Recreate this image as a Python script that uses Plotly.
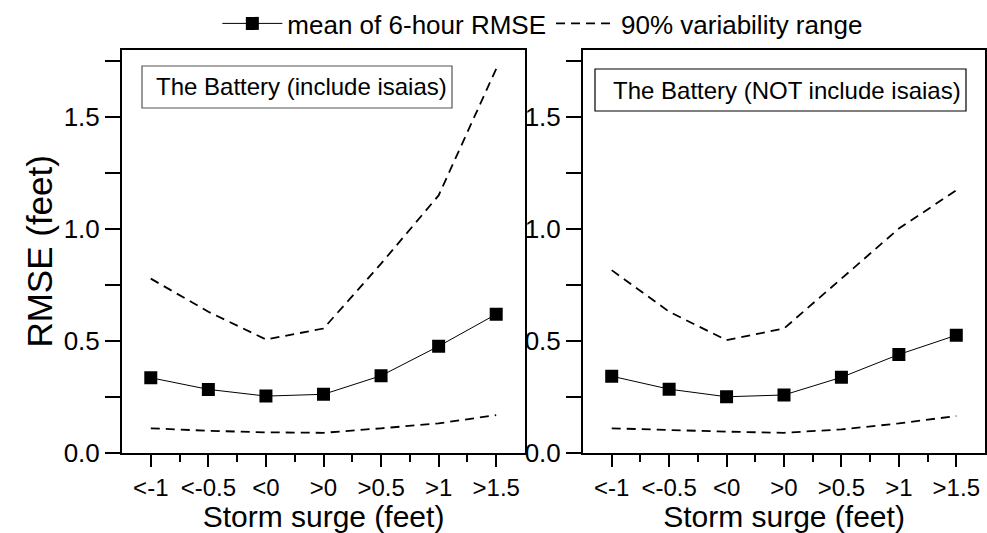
import plotly.graph_objects as go

categories = ["<-1", "<-0.5", "<0", ">0", ">0.5", ">1", ">1.5"]

# Left panel: The Battery (include isaias)
mean_incl = [0.335, 0.283, 0.253, 0.261, 0.344, 0.476, 0.619]
upper_incl = [0.778, 0.630, 0.506, 0.555, 0.845, 1.150, 1.716]
lower_incl = [0.109, 0.098, 0.091, 0.089, 0.109, 0.131, 0.168]

# Right panel: The Battery (NOT include isaias)
mean_excl = [0.342, 0.284, 0.250, 0.258, 0.337, 0.439, 0.525]
upper_excl = [0.816, 0.630, 0.503, 0.555, 0.778, 1.002, 1.173]
lower_excl = [0.109, 0.101, 0.094, 0.089, 0.104, 0.131, 0.164]

panel_titles = ["The Battery (include isaias)", "The Battery (NOT include isaias)"]
y_ticks = [0.0, 0.5, 1.0, 1.5]

FONT = "Liberation Sans, Arial, sans-serif"
xpos = list(range(len(categories)))
ticktext = [c.replace("<", "&lt;").replace(">", "&gt;") for c in categories]

fig = go.Figure()

panels = [
    ("x", "y", mean_incl, upper_incl, lower_incl),
    ("x2", "y2", mean_excl, upper_excl, lower_excl),
]
for i, (xa, ya, m, up, lo) in enumerate(panels):
    first = i == 0
    fig.add_trace(go.Scatter(
        x=xpos, y=m, xaxis=xa, yaxis=ya, mode="lines+markers",
        name="mean of 6-hour RMSE", showlegend=first, legendgroup="m",
        line=dict(color="black", width=1),
        marker=dict(symbol="square", size=13, color="black"),
    ))
    fig.add_trace(go.Scatter(
        x=xpos, y=up, xaxis=xa, yaxis=ya, mode="lines",
        name="90% variability range", showlegend=first, legendgroup="r",
        line=dict(color="black", width=1.8, dash="9px,6px"),
    ))
    fig.add_trace(go.Scatter(
        x=xpos, y=lo, xaxis=xa, yaxis=ya, mode="lines",
        name="90% variability range", showlegend=False, legendgroup="r",
        line=dict(color="black", width=1.8, dash="9px,6px"),
    ))

W, H = 987, 533
ydom = [1 - 452.7 / H, 1 - 50 / H]
xdoms = [[122 / W, 525 / W], [583 / W, 985 / W]]

common_x = dict(
    range=[-0.5, 6.5], tickmode="array", tickvals=xpos, ticktext=ticktext,
    ticks="outside", ticklen=12, tickwidth=1.5, tickcolor="black",
    minor=dict(tickmode="array", tickvals=[p + 0.5 for p in xpos[:-1]],
               ticks="outside", ticklen=7, tickwidth=1.5, tickcolor="black"),
    showline=True, linewidth=2, linecolor="black", mirror=True,
    showgrid=False, zeroline=False,
    tickfont=dict(family=FONT, size=24, color="black"),
    title=dict(text="Storm surge (feet)", font=dict(family=FONT, size=30, color="black"), standoff=0),
    automargin=False, fixedrange=True,
)
common_y = dict(
    range=[0, 1.8], tickmode="array", tickvals=y_ticks,
    ticktext=[f"{v:.1f}" for v in y_ticks],
    ticks="outside", ticklen=15, tickwidth=1.5, tickcolor="black",
    minor=dict(dtick=0.25, ticks="outside", ticklen=15, tickwidth=1.5, tickcolor="black"),
    showline=True, linewidth=2, linecolor="black", mirror=True,
    showgrid=False, zeroline=False,
    tickfont=dict(family=FONT, size=26, color="black"),
    automargin=False, fixedrange=True,
)

fig.update_layout(
    width=W, height=H,
    margin=dict(l=0, r=0, t=0, b=0),
    paper_bgcolor="white", plot_bgcolor="white",
    font=dict(family=FONT, color="black"),
    xaxis=dict(common_x, domain=xdoms[0], anchor="y"),
    xaxis2=dict(common_x, domain=xdoms[1], anchor="y2"),
    yaxis=dict(common_y, domain=ydom, anchor="x",
               title=dict(text="RMSE (feet)", font=dict(family=FONT, size=35, color="black"), standoff=0)),
    yaxis2=dict(common_y, domain=ydom, anchor="x2"),
    legend=dict(orientation="h", x=0.55, xanchor="center", y=1.0, yanchor="top",
                font=dict(family=FONT, size=26, color="black"),
                bgcolor="rgba(0,0,0,0)", itemwidth=60, tracegroupgap=0),
    showlegend=True,
)

# Label boxes
boxes = [
    dict(x0=142, x1=452, y0=66, y1=108, tx=301, col="#555555"),
    dict(x0=595, x1=966, y0=69, y1=111, tx=787, col="black"),
]
for b, title in zip(boxes, panel_titles):
    fig.add_shape(type="rect", xref="paper", yref="paper",
                  x0=b["x0"] / W, x1=b["x1"] / W, y0=1 - b["y1"] / H, y1=1 - b["y0"] / H,
                  line=dict(color=b["col"], width=1.2), fillcolor="white", layer="below")
    fig.add_annotation(text=title, xref="paper", yref="paper",
                       x=b["tx"] / W, y=1 - (b["y0"] + b["y1"]) / 2 / H,
                       xanchor="center", yanchor="middle", showarrow=False,
                       font=dict(family=FONT, size=24, color="black"))

fig.write_html("out.html")
